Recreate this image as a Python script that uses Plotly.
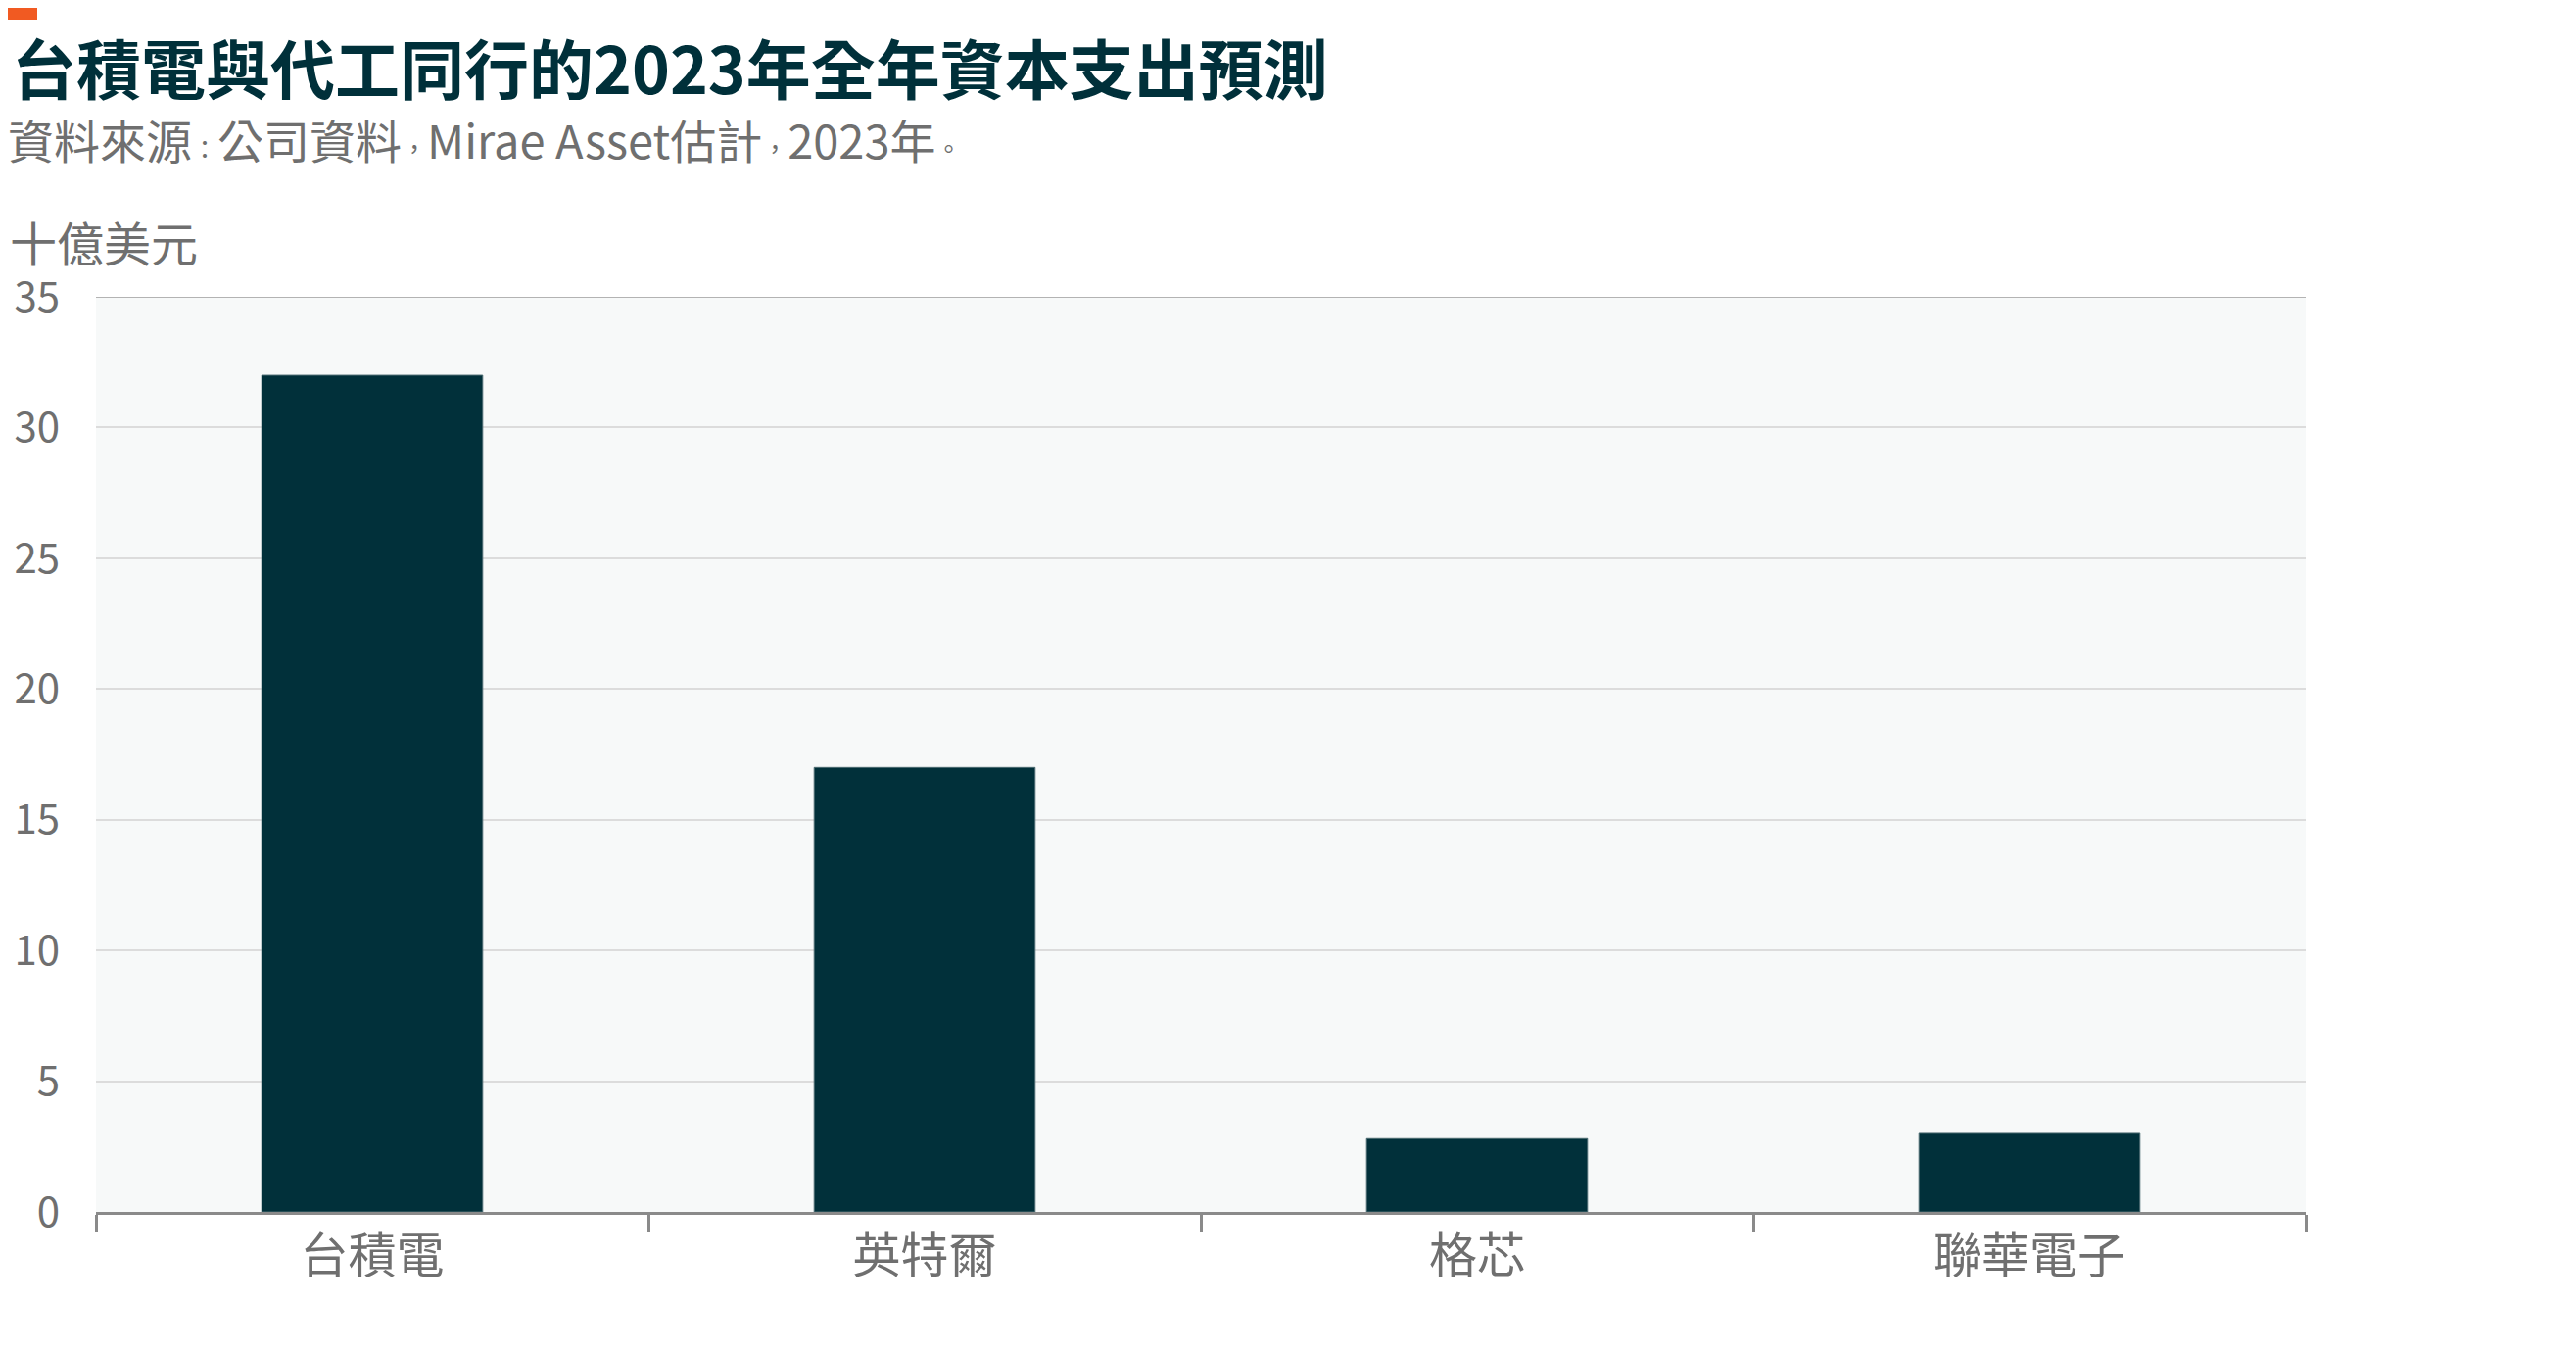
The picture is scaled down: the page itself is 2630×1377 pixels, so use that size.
import plotly.graph_objects as go

# data
companies = ['台積電', '英特爾', '格芯', '聯華電子']
capex_2023 = [32, 17, 2.8, 3.0]   # 十億美元
y_ticks = [0, 5, 10, 15, 20, 25, 30, 35]

title_txt = '台積電與代工同行的2023年全年資本支出預測'
source_parts = ['資料來源', '：', '公司資料', '，', 'Mirae Asset估計', '，', '2023年', '。']
unit_txt = '十億美元'

W, H = 2630, 1377
ml, mr, mt, mb = 90, 284, 295, 148
pw, ph = W - ml - mr, H - mt - mb

font_cjk = 'Noto Sans CJK TC'
dark = '#01303a'
grey = '#6f6f6f'

def px_x(x):
    return (x - ml) / pw

def px_y(y):
    return (H - mb - y) / ph

# full-width punctuation drawn narrow, like the original
source_txt = ''.join(p if p not in '：，。' else '<span style="font-size:26px">' + p + '</span>'
                     for p in source_parts)

fig = go.Figure()
fig.add_trace(go.Bar(x=companies, y=capex_2023,
                     marker=dict(color=dark, line=dict(color='#4d6c72', width=1)),
                     hoverinfo='x+y'))

fig.update_layout(
    width=W, height=H,
    margin=dict(l=ml, r=mr, t=mt, b=mb, autoexpand=False),
    paper_bgcolor='white', plot_bgcolor='#f7f9f9',
    showlegend=False, bargap=0.6,
    font=dict(family=font_cjk, color=grey),
)

fig.update_yaxes(range=[0, 35], tickvals=y_ticks, showgrid=True, gridcolor='#dcdcdc', gridwidth=1.5,
                 zeroline=False, showline=False, ticks='', ticklabelstandoff=36, automargin=False,
                 tickfont=dict(size=42, color=grey, family=font_cjk), fixedrange=True)
fig.update_xaxes(showline=True, linecolor='#8a8a8a', linewidth=3, automargin=False,
                 ticks='outside', tickson='boundaries', ticklen=18, tickwidth=3, tickcolor='#8a8a8a',
                 tickfont=dict(size=49, color=grey, family=font_cjk), fixedrange=True)

# darker top rule at the axis maximum
fig.add_shape(type='line', xref='paper', yref='y', x0=0, x1=1, y0=y_ticks[-1], y1=y_ticks[-1],
              line=dict(color='#b3b3b3', width=2), layer='below')

# orange corner tag
fig.add_shape(type='rect', xref='paper', yref='paper',
              x0=px_x(0), x1=px_x(30), y0=px_y(0), y1=px_y(12),
              fillcolor='#f15a22', line=dict(width=0))

fig.add_annotation(text='<b>' + title_txt + '</b>', xref='paper', yref='paper', showarrow=False,
                   x=px_x(2), y=px_y(59), xanchor='left', yanchor='middle',
                   font=dict(size=66, color='#00303a', family=font_cjk))
fig.add_annotation(text=source_txt, xref='paper', yref='paper', showarrow=False,
                   x=px_x(-2), y=px_y(133), xanchor='left', yanchor='middle',
                   font=dict(size=47, color=grey, family=font_cjk))
fig.add_annotation(text=unit_txt, xref='paper', yref='paper', showarrow=False,
                   x=px_x(0), y=px_y(238), xanchor='left', yanchor='middle',
                   font=dict(size=48, color=grey, family=font_cjk))

fig.write_html('out.html')
